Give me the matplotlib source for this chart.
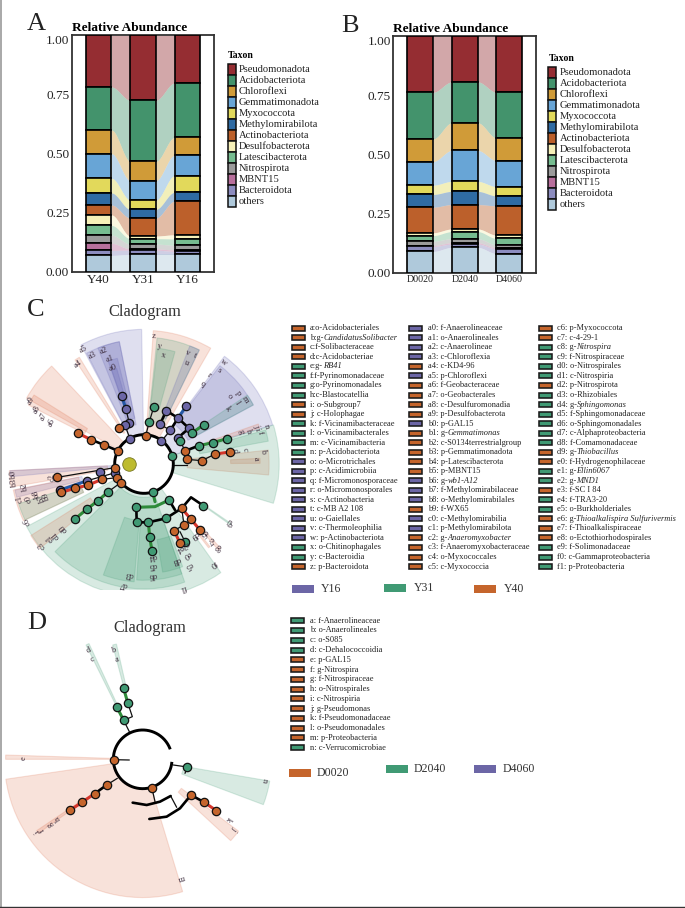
import numpy as np
import matplotlib
matplotlib.use("Agg")
import matplotlib.pyplot as plt
from matplotlib.patches import Rectangle, Wedge

plt.rcParams['font.family'] = ['Liberation Serif', 'DejaVu Serif']

W, H = 685, 908

taxa = ["Pseudomonadota", "Acidobacteriota", "Chloroflexi", "Gemmatimonadota", "Myxococcota",
        "Methylomirabilota", "Actinobacteriota", "Desulfobacterota", "Latescibacterota",
        "Nitrospirota", "MBNT15", "Bacteroidota", "others"]
taxa_colors = ["#952D32", "#43936C", "#D09B38", "#68A5D6", "#E2D95B", "#2F6BA3", "#BC602B",
               "#F6F0B8", "#76BC90", "#9B9B9B", "#B86F9C", "#8C8CBF", "#AFC9DB"]

groups_a = ["Y40", "Y31", "Y16"]
y40 = [.220, .182, .100, .104, .062, .051, .042, .044, .041, .035, .030, .021, .068]
y31 = [.276, .258, .082, .082, .039, .037, .076, .011, .023, .020, .006, .018, .072]
y16 = [.203, .230, .076, .086, .070, .038, .142, .017, .027, .020, .006, .013, .072]

groups_b = ["D0020", "D2040", "D4060"]
d0020 = [.238, .197, .096, .100, .039, .054, .108, .012, .024, .018, .004, .021, .089]
d2040 = [.194, .173, .117, .131, .042, .056, .103, .011, .030, .017, .006, .014, .106]
d4060 = [.238, .193, .096, .110, .039, .042, .124, .014, .027, .013, .004, .020, .080]

# text after | is set in italics
col_c1 = ["a:o-Acidobacteriales", "b:g-|CandidatusSolibacter", "c:f-Solibacteraceae", "d:c-Acidobacteriae",
          "e:g-|RB41", "f:f-Pyrinomonadaceae", "g:o-Pyrinomonadales", "h:c-Blastocatellia", "i: o-Subgroup7",
          "j: c-Holophagae", "k: f-Vicinamibacteraceae", "l: o-Vicinamibacterales", "m: c-Vicinamibacteria",
          "n: p-Acidobacteriota", "o: o-Microtrichales", "p: c-Acidimicrobiia", "q: f-Micromonosporaceae",
          "r: o-Micromonosporales", "s: c-Actinobacteria", "t: c-MB A2 108", "u: o-Gaiellales", "v: c-Thermoleophilia",
          "w: p-Actinobacteriota", "x: o-Chitinophagales", "y: c-Bacteroidia", "z: p-Bacteroidota"]
col_c1_g = "OOOOGGGGOOGGGGPPPPPPPPPGGO"
col_c2 = ["a0: f-Anaerolineaceae", "a1: o-Anaerolineales", "a2: c-Anaerolineae", "a3: c-Chloroflexia", "a4: c-KD4-96",
          "a5: p-Chloroflexi", "a6: f-Geobacteraceae", "a7: o-Geobacterales", "a8: c-Desulfuromonadia",
          "a9: p-Desulfobacterota", "b0: p-GAL15", "b1: g-|Gemmatimonas", "b2: c-S0134terrestrialgroup",
          "b3: p-Gemmatimonadota", "b4: p-Latescibacterota", "b5: p-MBNT15", "b6: g-|wb1-A12",
          "b7: f-Methylomirabilaceae", "b8: o-Methylomirabilales", "b9: f-WX65", "c0: c-Methylomirabilia",
          "c1: p-Methylomirabilota", "c2: g-|Anaeromyxobacter", "c3: f-Anaeromyxobacteraceae",
          "c4: o-Myxococcales", "c5: c-Myxococcia"]
col_c2_g = "PPPPOPOOOOPOOOOOPPPOPPOOOO"
col_c3 = ["c6: p-Myxococcota", "c7: c-4-29-1", "c8: g-|Nitrospira", "c9: f-Nitrospiraceae", "d0: o-Nitrospirales",
          "d1: c-Nitrospiria", "d2: p-Nitrospirota", "d3: o-Rhizobiales", "d4: g-|Sphingomonas",
          "d5: f-Sphingomonadaceae", "d6: o-Sphingomonadales", "d7: c-Alphaproteobacteria", "d8: f-Comamonadaceae",
          "d9: g-|Thiobacillus", "e0: f-Hydrogenophilaceae", "e1: g-|Ellin6067", "e2: g-|MND1",
          "e3: f-SC I 84", "e4: f-TRA3-20", "e5: o-Burkholderiales", "e6: g-|Thioalkalispira Sulfurivermis",
          "e7: f-Thioalkalispiraceae", "e8: o-Ectothiorhodospirales", "e9: f-Solimonadaceae",
          "f0: c-Gammaproteobacteria", "f1: p-Proteobacteria"]
col_c3_g = "OOGGGGOGGGGGGOOGGOGGOOOGGG"
col_d = ["a: f-Anaerolineaceae", "b: o-Anaerolineales", "c: o-S085", "d: c-Dehalococcoidia", "e: p-GAL15", "f: g-Nitrospira",
         "g: f-Nitrospiraceae", "h: o-Nitrospirales", "i: c-Nitrospiria", "j: g-Pseudomonas", "k: f-Pseudomonadaceae",
         "l: o-Pseudomonadales", "m: p-Proteobacteria", "n: c-Verrucomicrobiae"]
col_d_g = "GGGGOOOOOOOOOG"
clade_colors = {"P": "#6C66A6", "G": "#409A74", "O": "#C5652C"}
wedge_colors = {"P": "#5F5FB0", "G": "#3F9A72", "O": "#DD6E4A"}

# cladogram C, read in crop units (3 per pixel, crop origin 0,290): x1,y1,x2,y2 outer corners, inner radius, group
centre_c = (432, 522)
wedges_c = [
    (243, 165, 425, 120, 90, "P"), (265, 200, 358, 155, 120, "P"), (300, 190, 358, 155, 140, "P"),
    (325, 215, 352, 205, 170, "P"), (335, 240, 350, 235, 180, "P"),
    (225, 210, 240, 205, 110, "O"), (460, 122, 632, 175, 90, "O"), (470, 155, 598, 180, 130, "G"),
    (470, 190, 525, 185, 170, "G"), (555, 205, 598, 180, 150, "P"), (665, 210, 818, 405, 90, "P"),
    (650, 240, 760, 345, 150, "P"), (735, 320, 760, 345, 180, "G"), (775, 402, 770, 417, 200, "O"),
    (797, 420, 797, 455, 170, "G"), (805, 480, 805, 555, 130, "O"), (780, 505, 775, 520, 260, "O"),
    (820, 405, 820, 640, 90, "G"), (80, 325, 155, 228, 90, "O"), (85, 345, 110, 320, 200, "O"),
    (28, 542, 40, 590, 110, "O"), (30, 542, 33, 560, 90, "P"), (45, 600, 50, 622, 190, "P"),
    (40, 600, 75, 690, 200, "O"), (60, 640, 75, 690, 200, "G"), (80, 710, 650, 830, 90, "G"),
    (95, 735, 120, 775, 190, "O"), (165, 785, 545, 850, 100, "G"), (310, 855, 405, 845, 170, "G"),
    (410, 870, 545, 850, 170, "G"), (480, 800, 548, 830, 230, "G"), (685, 695, 692, 705, 200, "G"),
    (612, 720, 655, 780, 270, "O"), (600, 740, 630, 770, 270, "O"),
]
nodes_c_p = [(365, 317), (378, 358), (388, 400), (375, 405), (390, 447), (499, 362), (480, 403), (534, 384), (559, 348),
             (511, 421), (484, 454), (534, 443), (567, 415), (346, 548), (300, 547), (262, 572), (180, 600)]
nodes_c_g = [(461, 352), (448, 395), (612, 404), (577, 428), (541, 453), (515, 498), (681, 446), (638, 458), (596, 467),
             (325, 605), (294, 632), (260, 658), (226, 686), (458, 605), (507, 630), (409, 652), (410, 697), (445, 697),
             (498, 685), (449, 740), (456, 783), (610, 647), (555, 755)]
nodes_c_o = [(358, 415), (437, 437), (235, 430), (273, 449), (313, 465), (355, 483), (344, 533), (555, 483), (690, 486),
             (646, 492), (605, 512), (561, 508), (172, 562), (225, 595), (265, 585), (306, 568), (350, 563), (362, 578),
             (183, 607), (545, 655), (573, 688), (600, 720), (552, 704), (523, 722), (540, 760)]
thin_c = [[(378, 358), (388, 400), (375, 405), (390, 447)], [(358, 415), (375, 405)], [(437, 437), (448, 395), (461, 352)],
          [(437, 437), (470, 440)], [(484, 454), (511, 421), (480, 403)], [(567, 415), (577, 428)],
          [(534, 443), (541, 453), (555, 483)], [(515, 525), (560, 525)], [(555, 483), (561, 508), (605, 512), (646, 492)],
          [(344, 533), (172, 562)], [(346, 548), (262, 572)], [(350, 563), (306, 568)], [(362, 578), (325, 605)],
          [(523, 722), (552, 704), (545, 655)], [(555, 755), (540, 725)]]
thick_c = [[(480, 403), (499, 362), (534, 384), (511, 421)], [(534, 384), (567, 415), (534, 443)], [(555, 483), (596, 467)],
           [(273, 449), (313, 465), (355, 483)], [(409, 652), (410, 697), (445, 697), (498, 685), (545, 655), (573, 622), (610, 647)],
           [(507, 630), (525, 660)]]
blue_c = [[(365, 317), (378, 358)], [(534, 384), (559, 348)], [(262, 572), (180, 600)]]
green_c = [[(577, 428), (612, 404)], [(596, 467), (638, 458), (681, 446)], [(325, 605), (294, 632), (260, 658), (226, 686)],
           [(458, 605), (465, 635)], [(409, 652), (465, 650), (507, 630)], [(445, 697), (449, 740), (456, 783)]]
red_c = [[(235, 430), (273, 449)], [(646, 492), (690, 486)], [(306, 568), (265, 585), (225, 595), (183, 607)],
         [(545, 655), (573, 688), (600, 720)], [(523, 722), (540, 760)]]
labels_c = [("a5", 250, 178), ("a3", 278, 197), ("a2", 312, 183), ("a1", 330, 207), ("a0", 340, 233), ("a4", 233, 222),
            ("z", 460, 137), ("y", 480, 168), ("x", 490, 197), ("v", 564, 190), ("t", 583, 197), ("u", 560, 218),
            ("w", 670, 218), ("s", 657, 242), ("r", 628, 257), ("q", 610, 282), ("p", 716, 310), ("o", 690, 318),
            ("m", 735, 330), ("l", 711, 340), ("k", 684, 357), ("j", 770, 408), ("i", 772, 418), ("h", 745, 425),
            ("g", 722, 425), ("f", 780, 428), ("n", 800, 410), ("d", 705, 483), ("c", 735, 480), ("b", 790, 483),
            ("a", 768, 505), ("a9", 92, 332), ("a8", 110, 358), ("a7", 130, 380), ("a6", 155, 397), ("b0", 42, 555),
            ("b3", 42, 578), ("b2", 75, 592), ("c2", 155, 562), ("c1", 60, 625), ("c0", 85, 625), ("b8", 110, 615),
            ("b7", 125, 625), ("b9", 142, 620), ("c6", 82, 695), ("c3", 125, 765), ("e1", 148, 745), ("d1", 168, 735),
            ("d0", 190, 715), ("d7", 370, 882), ("d3", 387, 853), ("d6", 457, 855), ("d5", 457, 825), ("d4", 458, 798),
            ("d8", 530, 812), ("e0", 560, 795), ("e5", 566, 825), ("f1", 550, 893), ("f0", 640, 820), ("e9", 683, 697),
            ("e8", 652, 772), ("e7", 630, 750), ("e6", 612, 730), ("d9", 585, 735), ("e2", 555, 765), ("e4", 540, 775)]

# cladogram D, crop origin 0,600
centre_d = (428, 478)
wedges_d = [(22, 537, 548, 875, 90, "O"), (17, 465, 17, 478, 88, "O"), (715, 693, 692, 722, 145, "O"),
            (808, 543, 790, 614, 125, "G"), (338, 135, 350, 135, 220, "G"), (258, 135, 268, 133, 170, "G"),
            (110, 692, 118, 698, 230, "O")]
nodes_d_g = [(371, 265), (383, 308), (350, 320), (371, 361), (562, 501)]
nodes_d_o = [(341, 479), (456, 565), (320, 555), (284, 581), (247, 606), (210, 631), (573, 585), (613, 607), (649, 632)]
thin_d = [[(383, 308), (397, 350), (371, 361), (388, 395)], [(341, 479), (388, 480)], [(562, 501), (520, 495)],
          [(562, 501), (555, 520)], [(456, 565), (465, 605)], [(320, 555), (352, 535)], [(512, 588), (530, 622)]]
thick_d = [[(398, 608), (440, 615), (480, 605), (512, 588)], [(448, 657), (500, 650), (540, 625), (573, 585)],
           [(573, 585), (613, 607)], [(320, 555), (284, 581)]]
green_d = [[(371, 265), (383, 308)], [(350, 320), (371, 361)]]
red_d = [[(284, 581), (247, 606), (210, 631)], [(613, 607), (649, 632)]]
labels_d = [("a", 350, 180), ("b", 341, 152), ("c", 277, 177), ("d", 265, 150), ("e", 70, 475), ("f", 127, 690),
            ("g", 150, 673), ("h", 175, 655), ("i", 113, 693), ("j", 703, 685), ("k", 685, 657), ("m", 545, 835), ("n", 793, 542)]


def stacked(ax, groups, series):
    # series is one list per group, taxa run from the top of the bar down
    tops = 1 - np.cumsum(np.array(series), axis=1) + np.array(series)
    vals = np.array(series)
    x = np.arange(1, len(groups) + 1)
    bw = 0.58
    for i in range(vals.shape[1]):
        ax.bar(x, vals[:, i], bw, bottom=tops[:, i] - vals[:, i], color=taxa_colors[i], edgecolor="black", linewidth=1.2, zorder=3)
        for g in range(len(groups) - 1):
            xs = np.linspace(x[g] + bw / 2, x[g + 1] - bw / 2, 40)
            t = (xs - xs[0]) / (xs[-1] - xs[0])
            s = t * t * (3 - 2 * t)
            top = tops[g, i] + (tops[g + 1, i] - tops[g, i]) * s
            low = top - (vals[g, i] + (vals[g + 1, i] - vals[g, i]) * s)
            ax.fill_between(xs, low, top, color=taxa_colors[i], alpha=0.42, linewidth=0, zorder=1)
    ax.set_xlim(0.4, 3.6)
    ax.set_ylim(0, 1)
    ax.set_xticks(x, groups)
    ax.set_yticks([0, .25, .5, .75, 1], ["0.00", "0.25", "0.50", "0.75", "1.00"])
    ax.tick_params(length=0, pad=2, labelsize=9.5, colors="#222222")
    ax.get_yticklabels()[-1].set_va("top")
    for sp in ax.spines.values():
        sp.set_linewidth(1.3)
        sp.set_color("#333333")


def px_axes(x0, y0, w, h):
    return fig.add_axes([x0 / W, 1 - (y0 + h) / H, w / W, h / H])


def taxon_legend(x, y0, tx):
    ov.text(x, y0 - 14, "Taxon", fontsize=7, fontweight="bold", va="center", stretch="condensed")
    for i, name in enumerate(taxa):
        y = y0 + i * 11.03
        ov.add_patch(Rectangle((x, y - 5.5), 8, 11, fc=taxa_colors[i], ec="#111111", lw=1.1))
        ov.text(tx, y, name, fontsize=7.6, va="center", color="#222222")


def clade_legend(names, codes, sx, tx, y0, dy):
    rend = fig.canvas.get_renderer()
    for i, name in enumerate(names):
        y = y0 + i * dy
        ov.add_patch(Rectangle((sx, y - 2.5), 13, 5, fc=clade_colors[codes[i]], ec="#1a1a1a", lw=1.15))
        plain, _, ital = name.partition("|")
        t = ov.text(tx, y, plain, fontsize=6.05, va="center", color="#222222")
        if ital:
            ov.text(tx + t.get_window_extent(rend).width + 0.3, y, ital, fontsize=6.05, va="center", style="italic", color="#222222")


def cladogram(x0, y0, w, h, centre, wedges, nodes, thin, thick, green, red, labels, blue=(), gap=(0, 0)):
    ax = px_axes(x0, y0, w, h)
    ax.patch.set_alpha(0)
    ax.set_xlim(0, w * 3)
    ax.set_ylim(h * 3, 0)
    ax.axis("off")
    cx, cy = centre
    for x1, y1, x2, y2, rin, g in wedges:
        a1 = np.degrees(np.arctan2(y1 - cy, x1 - cx))
        a2 = np.degrees(np.arctan2(y2 - cy, x2 - cx))
        r = max(np.hypot(x1 - cx, y1 - cy), np.hypot(x2 - cx, y2 - cy))
        if (a2 - a1) % 360 > 180:
            a1, a2 = a2, a1
        ax.add_patch(Wedge(centre, r, a1, a2, width=r - rin, fc=wedge_colors[g], ec=wedge_colors[g], alpha=0.2, lw=0.8, zorder=1))
    t = np.radians(np.linspace(gap[0], 360 + gap[1], 200))
    ax.plot(cx + 88 * np.cos(t), cy + 88 * np.sin(t), color="black", lw=2.1, zorder=4, solid_capstyle="butt")
    for lines, col, lw in [(thin, "#111111", 0.9), (thick, "black", 1.9), (blue, "#2458A6", 2.2), (green, "#2E8B3A", 2.2), (red, "#D6362B", 2.2)]:
        for line in lines:
            xs, ys = zip(*line)
            ax.plot(xs, ys, color=col, lw=lw, zorder=3, solid_capstyle="round")
    for pts, g in nodes:
        xs, ys = zip(*pts)
        ax.scatter(xs, ys, s=36, c=clade_colors[g], edgecolors="#111111", linewidths=0.9, zorder=5)
    for txt, x, y in labels:
        rot = np.degrees(np.arctan2(cy - y, x - cx)) - 90
        ax.text(x, y, txt, fontsize=6, rotation=rot, ha="center", va="center", color="#3a2a3a", zorder=6)
    return ax


fig = plt.figure(figsize=(W / 100, H / 100), dpi=100, facecolor="white")
ov = fig.add_axes([0, 0, 1, 1])
ov.set_xlim(0, W)
ov.set_ylim(H, 0)
ov.axis("off")
ov.set_zorder(5)

ax_a = px_axes(72, 35, 142, 236.5)
stacked(ax_a, groups_a, [y40, y31, y16])
ax_b = px_axes(393.5, 36, 142.5, 236.5)
stacked(ax_b, groups_b, [d0020, d2040, d4060])
ax_b.tick_params(axis="x", labelsize=7.2)

ov.text(72, 28, "Relative Abundance", fontsize=9.6, fontweight="bold", va="center")
ov.text(393, 29, "Relative Abundance", fontsize=9.6, fontweight="bold", va="center")
for letter, x, y in [("A", 27, 24), ("B", 341, 26), ("C", 27, 310), ("D", 27, 623)]:
    ov.text(x, y, letter, fontsize=19, va="center", color="#222222")
taxon_legend(228, 69.3, 239)
taxon_legend(548.5, 72.3, 559.5)

ov.text(145, 312, "Cladogram", fontsize=11.8, ha="center", va="center", color="#333333")
ov.text(150, 628, "Cladogram", fontsize=11.8, ha="center", va="center", color="#333333")

cladogram(0, 290, 290, 300, centre_c, wedges_c, [(nodes_c_p, "P"), (nodes_c_g, "G"), (nodes_c_o, "O")],
          thin_c, thick_c, green_c, red_c, labels_c, blue_c).scatter([388], [523], s=95, c="#BDBB2E", edgecolors="#777722", linewidths=0.6, zorder=5)
cladogram(0, 600, 300, 308, centre_d, wedges_d, [(nodes_d_g, "G"), (nodes_d_o, "O")],
          thin_d, thick_d, green_d, red_d, labels_d, gap=(5, -20))

clade_legend(col_c1, col_c1_g, 292, 310, 328.3, 9.53)
clade_legend(col_c2, col_c2_g, 409, 427.7, 328.3, 9.53)
clade_legend(col_c3, col_c3_g, 539, 556.7, 328.3, 9.53)
clade_legend(col_d, col_d_g, 291, 310, 620.7, 9.77)

for name, g, sx, ty, tx in [("Y16", "P", 292, 588.7, 321), ("Y31", "G", 384, 588, 413.7), ("Y40", "O", 474, 588.7, 504),
                            ("D0020", "O", 289, 773, 317), ("D2040", "G", 385.7, 769, 414), ("D4060", "P", 474, 769, 502.7)]:
    ov.add_patch(Rectangle((sx, ty - 4), 22, 8, fc=clade_colors[g], ec="none"))
    ov.text(tx, ty, name, fontsize=8.6, va="center", color="#333333")

ov.plot([0.5, 0.5], [0, H], color="#999999", lw=1.2)
ov.plot([0, W], [H - 1, H - 1], color="#333333", lw=1.0)
fig.savefig("out.png", dpi=100)
